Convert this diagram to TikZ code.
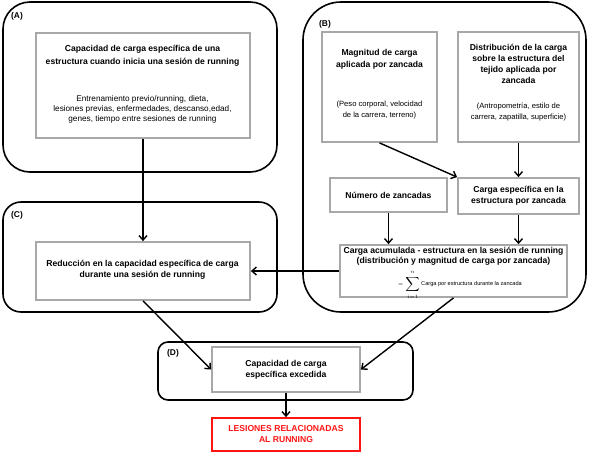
\documentclass[tikz,border=0pt]{standalone}
\usepackage{fontspec}
\setmainfont{Liberation Sans}
\usetikzlibrary{arrows.meta}
\definecolor{boxgray}{RGB}{168,168,168}
\definecolor{lesred}{RGB}{255,20,20}
\begin{document}
\begin{tikzpicture}[x=1pt,y=-1pt,
  outerbox/.style={draw=black,line width=1.6pt,inner sep=0pt},
  innerbox/.style={draw=boxgray,line width=1.8pt,fill=white,inner sep=0pt},
  redbox/.style={draw=lesred,line width=1.8pt,fill=white,inner sep=0pt},
  ttl/.style={font=\fontsize{8.6}{11}\selectfont\bfseries,align=center,inner sep=0pt},
  bdy/.style={font=\fontsize{8.2}{10}\selectfont,align=center,inner sep=0pt},
  sml/.style={font=\fontsize{7.6}{11}\selectfont,align=center,inner sep=0pt},
  lbl/.style={font=\fontsize{8.4}{10}\selectfont\bfseries,inner sep=0pt},
  arr/.style={draw=black,line width=1.4pt,-{Straight Barb[length=4.5pt,width=8pt,line width=1.4pt]}}
]
\useasboundingbox (0,0) rectangle (589,453);
% outer groups
\node[outerbox,rounded corners=27pt,minimum width=274pt,minimum height=170pt] (Aout) at (140,87) {};
\node[outerbox,rounded corners=18pt,minimum width=274pt,minimum height=110pt] (Cout) at (140,257) {};
\node[outerbox,rounded corners=38pt,minimum width=283pt,minimum height=310pt] (Bout) at (444.5,157) {};
\node[outerbox,rounded corners=10pt,minimum width=255pt,minimum height=58pt] (Dout) at (285.5,371) {};
\node[lbl] (la) at (17,16) {(A)};
\node[lbl] (lb) at (325,24) {(B)};
\node[lbl] (lc) at (17,215) {(C)};
\node[lbl] (ld) at (173,353) {(D)};
% inner boxes
\node[innerbox,minimum width=214pt,minimum height=105pt] (Ain) at (143,85.5) {};
\node[ttl,font=\fontsize{8.6}{13}\selectfont\bfseries] (Ait) at (142.5,55.5) {Capacidad de carga específica de una\\estructura cuando inicia una sesión de running};
\node[bdy] (Aib) at (142.5,109) {Entrenamiento previo/running, dieta,\\lesiones previas, enfermedades, descanso,edad,\\genes, tiempo entre sesiones de running};
\node[innerbox,minimum width=214pt,minimum height=58pt] (Cin) at (143,271) {};
\node[ttl] (Cit) at (142.5,269.5) {Reducción en la capacidad específica de carga\\durante una sesión de running};
\node[innerbox,minimum width=115pt,minimum height=110pt] (Mag) at (379.5,87) {};
\node[ttl,font=\fontsize{8.6}{12.5}\selectfont\bfseries] (Magt) at (379.5,59.5) {Magnitud de carga\\aplicada por zancada};
\node[sml] (Mags) at (379.5,110.5) {(Peso corporal, velocidad\\de la carrera, terreno)};
\node[innerbox,minimum width=121pt,minimum height=110pt] (Dist) at (518.5,87) {};
\node[ttl,font=\fontsize{8.6}{10.8}\selectfont\bfseries] (Distt) at (518.5,64) {Distribución de la carga\\sobre la estructura del\\tejido aplicada por\\zancada};
\node[sml,font=\fontsize{7.6}{10.5}\selectfont] (Dists) at (518.5,112) {(Antropometría, estilo de\\carrera, zapatilla, superficie)};
\node[innerbox,minimum width=117pt,minimum height=34pt,font=\fontsize{8.6}{11}\selectfont\bfseries] (Num) at (388.5,195) {Número de zancadas};
\node[innerbox,minimum width=121pt,minimum height=36pt,font=\fontsize{8.6}{11}\selectfont\bfseries,align=center] (CEsp) at (518.5,196) {Carga específica en la\\estructura por zancada};
\node[innerbox,minimum width=227pt,minimum height=52pt] (CAcum) at (453.5,271) {};
\node[ttl,font=\fontsize{8.6}{10.3}\selectfont\bfseries] (CAt) at (453.5,256) {Carga acumulada - estructura en la sesión de running\\(distribución y magnitud de carga por zancada)};
\node[inner sep=0pt] (CAs) at (460,285) {\fontsize{5}{6}\selectfont$\displaystyle=\sum_{i=1}^{\raisebox{1pt}{$\scriptstyle n$}}$\ \fontsize{5.6}{6}\selectfont Carga por estructura durante la zancada};
\node[innerbox,minimum width=148pt,minimum height=45pt,font=\fontsize{8.6}{11}\selectfont\bfseries,align=center] (Din) at (286,369.5) {Capacidad de carga\\específica excedida};
\node[redbox,minimum width=148pt,minimum height=33pt,text=lesred,font=\fontsize{8.6}{11}\selectfont\bfseries,align=center] (Red) at (286,434.5) {LESIONES RELACIONADAS\\AL RUNNING};
% arrows
\draw[arr] (Ain.south) -- (Cin.north);
\draw[arr] (CAcum.west) -- (Cin.east);
\draw[arr] (Mag.south) -- (CEsp.north west);
\draw[arr] (Dist.south) -- (CEsp.north);
\draw[arr] (Num.south) -- (Num.south |- CAcum.north);
\draw[arr] (CEsp.south) -- (CEsp.south |- CAcum.north);
\draw[arr] (Cin.south) -- (Din.west);
\draw[arr] (CAcum.south) -- (Din.east);
\draw[arr] (Din.south) -- (Red.north);
\end{tikzpicture}
\end{document}
